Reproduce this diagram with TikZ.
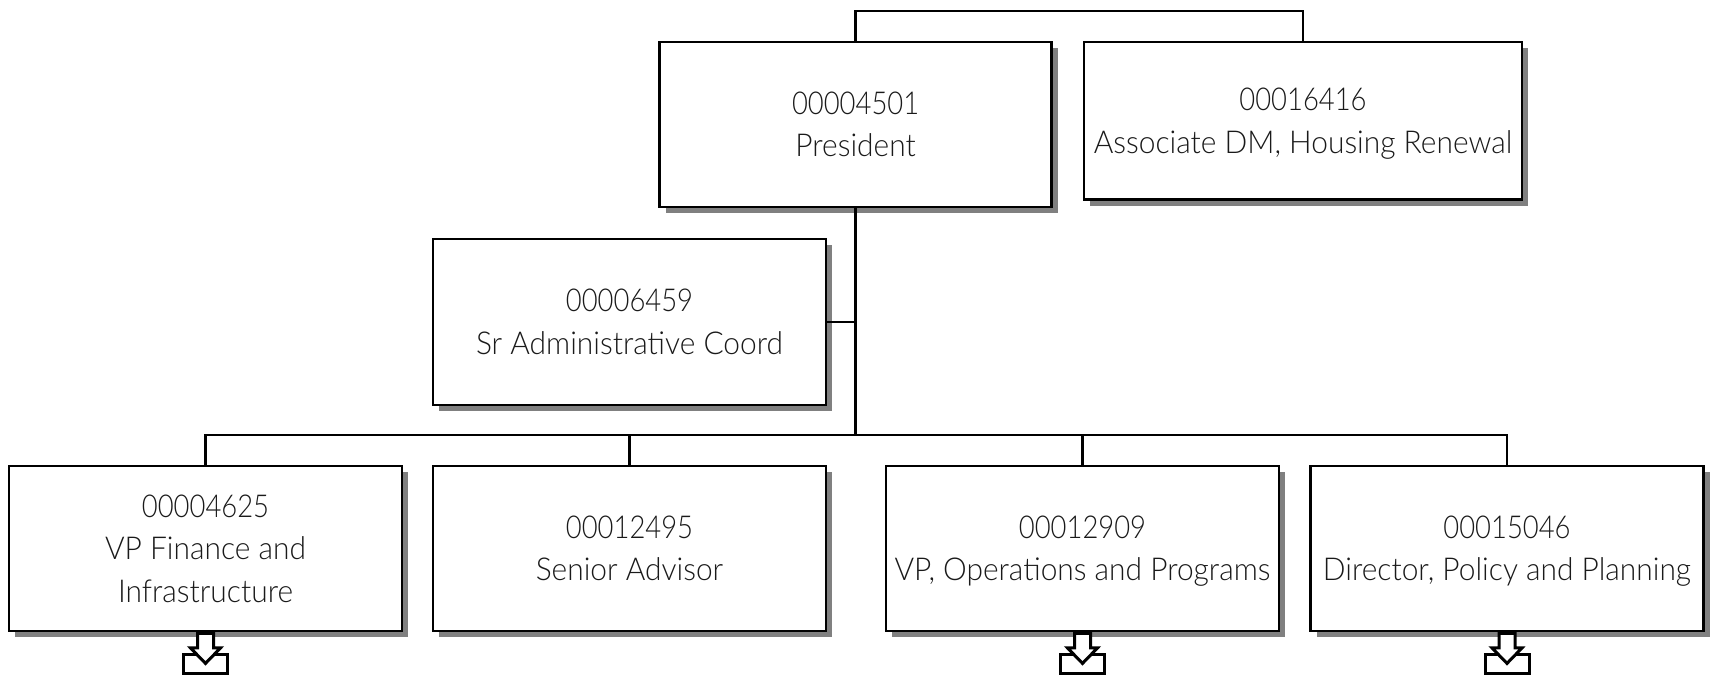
\documentclass[tikz,border=0pt]{standalone}
\usepackage{fontspec}
\setmainfont{Lato}[UprightFont=* Light,FakeStretch=0.95]
\newfontfamily\numf{Lato}[UprightFont=* Light,FakeStretch=0.87]
\newcommand{\idline}[1]{{\numf\rule{0pt}{35pt}#1}}
\usetikzlibrary{shadows}
\definecolor{shade}{HTML}{808080}
\definecolor{ink}{HTML}{1A1A1A}
\tikzset{
  x=1pt,y=-1pt,
  box/.style={draw=black,line width=2.8pt,fill=white,inner sep=0pt,align=center,
    minimum width=#1,text=ink,font=\fontsize{31.5}{42.5}\selectfont,
    execute at end node={\rule[-12.75pt]{0pt}{12.75pt}},
    general shadow={fill=shade,shadow xshift=6.4pt,shadow yshift=-6.3pt}},
  wire/.style={draw=black,line width=2.6pt},
  moremark/.pic={
    \draw[line width=3pt,fill=white] (-22,22.5) rectangle (22,41);
    \draw[line width=3pt,fill=white,line join=miter] (-8,1) -- (8,1) -- (8,15.5) -- (15,15.5) -- (0,31) -- (-15,15.5) -- (-8,15.5) -- cycle;
  }
}
\begin{document}
\begin{tikzpicture}
\useasboundingbox (0,0) rectangle (1711,678);
\node[box=392pt,minimum height=165pt] (pres) at (855.6,124.5) {\idline{00004501}\\President};
\node[box=438pt,minimum height=157.5pt] (assoc) at (1303,120.8) {\idline{00016416}\\Associate DM, Housing Renewal};
\node[box=393pt,minimum height=166pt] (sradmin) at (629.5,322) {\idline{00006459}\\Sr Administrative Coord};
\node[box=393pt,minimum height=165pt] (vpfin) at (205.5,548.5) {\idline{00004625}\\VP Finance and\\Infrastructure};
\node[box=393pt,minimum height=165pt] (senior) at (629.5,548.5) {\idline{00012495}\\Senior Advisor};
\node[box=393pt,minimum height=165pt] (vpops) at (1082.5,548.5) {\idline{00012909}\\VP, Operations and Programs};
\node[box=393pt,minimum height=165pt] (director) at (1507,548.5) {\idline{00015046}\\Director, Policy and Planning};
\coordinate (topbar) at (855.6,11);
\coordinate (busjoin) at (855.6,435);
\draw[wire] (pres.north) -- (topbar) -| (assoc.north);
\draw[wire] (pres.south) -- (busjoin);
\draw[wire] (sradmin.east) -- (sradmin.east -| pres.south);
\draw[wire] (vpfin.north) |- (busjoin);
\draw[wire] (senior.north) |- (busjoin);
\draw[wire] (vpops.north) |- (busjoin);
\draw[wire] (director.north) |- (busjoin);
\path (vpfin.south) pic {moremark};
\path (vpops.south) pic {moremark};
\path (director.south) pic {moremark};
\end{tikzpicture}
\end{document}
